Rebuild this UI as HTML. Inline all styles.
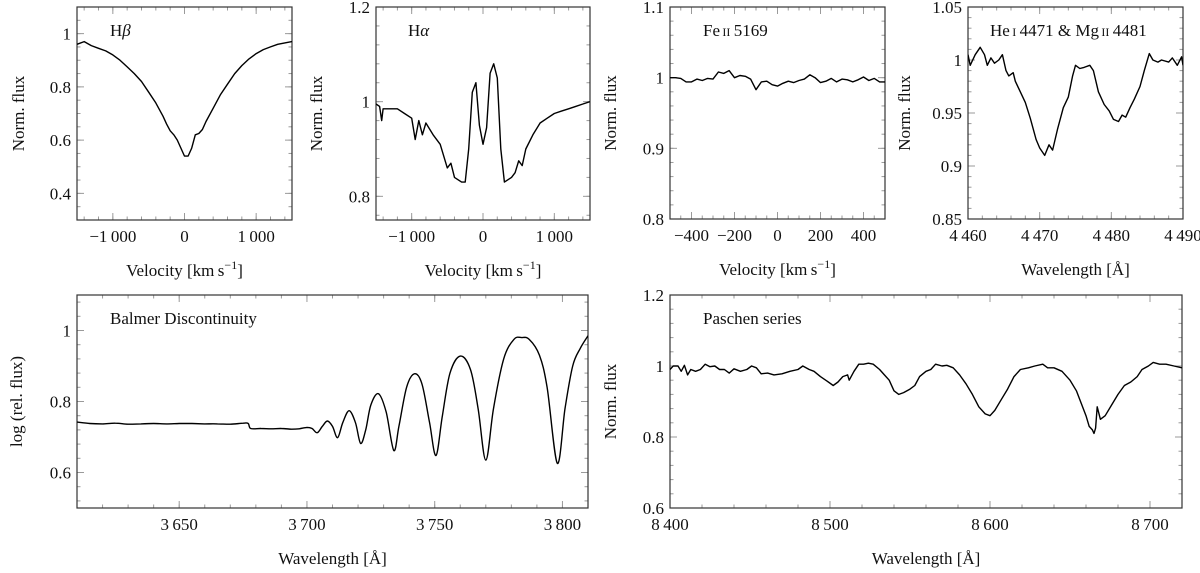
<!DOCTYPE html>
<html><head><meta charset="utf-8"><style>
html,body{margin:0;padding:0;background:#fff;}
svg, svg text{display:block;font-family:"Liberation Serif","DejaVu Serif",serif !important;}
</style></head><body>
<svg id="fig" width="1200" height="573" viewBox="0 0 1200 573" font-family="Liberation Serif, serif"></svg>
<script>
// ---- data ----
const hbV=[-1500,-1400,-1300,-1200,-1100,-1000,-900,-800,-700,-600,-500,-400,-300,-250,-200,-150,-100,-50,0,50,100,150,200,250,300,400,500,600,700,800,900,1000,1100,1200,1300,1400,1500];
const hbF=[0.96,0.97,0.955,0.945,0.935,0.92,0.9,0.875,0.85,0.82,0.78,0.74,0.69,0.66,0.635,0.62,0.6,0.57,0.54,0.54,0.57,0.62,0.625,0.64,0.67,0.72,0.77,0.81,0.85,0.88,0.905,0.925,0.94,0.95,0.96,0.965,0.97];
const haV=[-1500,-1450,-1420,-1400,-1300,-1200,-1100,-1000,-950,-900,-850,-800,-700,-600,-500,-450,-400,-300,-250,-200,-150,-100,-50,0,50,100,150,200,250,300,400,450,500,550,600,700,800,900,1000,1100,1200,1300,1400,1500];
const haF=[0.995,0.99,0.96,0.985,0.985,0.985,0.975,0.965,0.92,0.96,0.93,0.955,0.93,0.91,0.86,0.87,0.84,0.83,0.83,0.9,1.02,1.04,0.95,0.91,0.945,1.06,1.08,1.05,0.9,0.83,0.84,0.85,0.875,0.865,0.9,0.93,0.955,0.965,0.975,0.98,0.985,0.99,0.995,1.0];
const feV=[-500,-475,-450,-425,-400,-375,-350,-325,-300,-275,-250,-225,-200,-175,-150,-125,-100,-75,-50,-25,0,25,50,75,100,125,150,175,200,225,250,275,300,325,350,375,400,425,450,475,500];
const feF=[1.0,1.0,0.999,0.994,0.994,0.998,0.996,0.999,0.998,1.008,1.006,1.01,1.0,1.003,1.002,0.998,0.983,0.994,0.995,0.99,0.988,0.992,0.995,0.993,0.996,0.998,1.004,1.0,0.993,0.995,0.999,0.994,0.998,0.997,0.994,0.997,1.001,0.996,0.999,0.994,0.994];
const heW=[4460,4460.3,4461,4461.7,4462.3,4462.7,4463.2,4463.7,4464.3,4464.8,4465.3,4465.7,4466.3,4466.6,4467.3,4468,4468.7,4469.5,4470,4470.7,4471.3,4471.8,4472.5,4473.3,4474,4474.6,4475,4475.6,4476.2,4477,4477.5,4478.2,4479,4479.7,4480.3,4481,4481.5,4482,4482.6,4483.2,4484,4484.6,4485.3,4485.8,4486.5,4487,4488,4488.5,4489.2,4489.8,4490];
const heF=[1.005,0.995,1.005,1.012,1.005,0.995,1.002,0.997,1.0,1.005,0.99,0.985,0.988,0.98,0.97,0.96,0.945,0.925,0.917,0.91,0.92,0.915,0.935,0.955,0.965,0.985,0.995,0.992,0.993,0.995,0.99,0.97,0.958,0.952,0.944,0.942,0.948,0.946,0.955,0.963,0.975,0.99,1.006,1.0,0.998,1.0,0.998,1.002,0.995,1.003,0.995];
const bdW=[3610,3615,3620,3625,3630,3635,3640,3645,3650,3655,3660,3665,3670,3675,3677,3678,3682,3686,3690,3694,3697,3700,3702,3704,3706,3708,3710,3712,3714,3716.5,3719,3721,3723,3725,3728,3731,3734,3736,3739,3742,3745,3748,3750.5,3753,3756,3760,3764,3767,3770,3773,3777,3781,3784,3787,3791,3794,3798,3801,3804,3807,3810];
const bdF=[0.742,0.738,0.737,0.739,0.736,0.737,0.738,0.737,0.738,0.738,0.737,0.737,0.736,0.739,0.738,0.724,0.724,0.723,0.724,0.722,0.723,0.727,0.724,0.712,0.73,0.745,0.73,0.698,0.74,0.774,0.74,0.682,0.72,0.79,0.822,0.77,0.662,0.73,0.84,0.878,0.85,0.74,0.648,0.76,0.88,0.928,0.89,0.78,0.635,0.78,0.92,0.975,0.98,0.975,0.93,0.84,0.626,0.78,0.9,0.95,0.985];
const paW=[8400,8402,8405,8407,8409,8411,8413,8416,8419,8422,8425,8428,8431,8434,8437,8440,8444,8448,8451,8454,8457,8461,8465,8470,8475,8480,8483,8487,8490,8494,8498,8502,8505,8508,8511,8512,8515,8518,8521,8524,8527,8531,8534,8537,8540,8543,8546,8550,8553,8556,8560,8563,8566,8570,8573,8577,8581,8585,8589,8593,8597,8600,8603,8607,8611,8615,8619,8624,8628,8633,8636,8640,8645,8650,8654,8657,8660,8662,8664,8665,8666,8667,8669,8672,8676,8680,8684,8688,8692,8695,8699,8702,8706,8710,8715,8720];
const paF=[0.99,1.0,1.0,0.985,1.002,0.975,0.99,0.985,0.99,1.005,0.998,1.0,0.99,0.99,0.98,0.992,0.985,0.99,1.0,0.995,0.978,0.98,0.975,0.978,0.985,0.99,1.0,0.99,0.985,0.97,0.958,0.945,0.955,0.97,0.975,0.96,0.985,1.005,1.005,1.008,1.005,0.99,0.975,0.96,0.93,0.92,0.925,0.935,0.945,0.97,0.985,0.99,1.005,1.0,1.002,0.995,0.975,0.95,0.92,0.885,0.865,0.86,0.875,0.905,0.935,0.97,0.99,0.995,1.0,1.005,0.995,0.995,0.985,0.96,0.93,0.895,0.86,0.83,0.82,0.81,0.825,0.885,0.85,0.86,0.89,0.92,0.945,0.955,0.97,0.99,1.0,1.01,1.005,1.005,1.0,0.995];

// ---- drawing ----
const NS='http://www.w3.org/2000/svg';
const svg=document.getElementById('fig');
const FF='Liberation Serif, DejaVu Serif, serif';
function mk(tag,attrs,parent){const e=document.createElementNS(NS,tag);for(const k in attrs)e.setAttribute(k,attrs[k]);if(tag==='text')e.setAttribute('font-family',FF);(parent||svg).appendChild(e);return e;}
function fmt(v,dec){let s=v.toFixed(dec);let neg=s[0]==='-';if(neg)s=s.slice(1);let [i,f]=s.split('.');if(i.length>=4)i=i.slice(0,i.length-3)+'\u2009'+i.slice(-3);s=i+(f?'.'+f:'');if(parseFloat(s.replace('\u2009',''))===0)neg=false;return (neg?'\u2212':'')+s;}
function ticks(a,b,step){const r=[];const n0=Math.ceil(a/step-1e-6),n1=Math.floor(b/step+1e-6);for(let n=n0;n<=n1;n++)r.push(+(n*step).toFixed(6));return r;}

function panel(c){
  const g=mk('g',{});
  
  
  const X=v=>c.x0+(v-c.xmin)/(c.xmax-c.xmin)*(c.x1-c.x0);
  const Y=v=>c.y1-(v-c.ymin)/(c.ymax-c.ymin)*(c.y1-c.y0);
  const tg=mk('g',{stroke:'#9a9a9a','stroke-width':1},g);
  
  
  ticks(c.xmin,c.xmax,c.xminor).forEach(v=>{const x=X(v);mk('line',{x1:x,x2:x,y1:c.y1,y2:c.y1-3.5},tg);mk('line',{x1:x,x2:x,y1:c.y0,y2:c.y0+3.5},tg);});
  ticks(c.ymin,c.ymax,c.yminor).forEach(v=>{const y=Y(v);mk('line',{x1:c.x0,x2:c.x0+3.5,y1:y,y2:y},tg);mk('line',{x1:c.x1,x2:c.x1-3.5,y1:y,y2:y},tg);});
  ticks(c.xmin,c.xmax,c.xmajor).forEach(v=>{const x=X(v);mk('line',{x1:x,x2:x,y1:c.y1,y2:c.y1-7},tg);mk('line',{x1:x,x2:x,y1:c.y0,y2:c.y0+7},tg);
    const t=mk('text',{x:x,y:c.y1+22,'text-anchor':'middle','font-size':17,fill:'#111',stroke:'none'},g);t.textContent=fmt(v,c.xdec);
    
    });
  ticks(c.ymin,c.ymax,c.ymajor).forEach(v=>{const y=Y(v);mk('line',{x1:c.x0,x2:c.x0+7,y1:y,y2:y},tg);mk('line',{x1:c.x1,x2:c.x1-7,y1:y,y2:y},tg);
    const t=mk('text',{x:c.x0-6,y:y+6,'text-anchor':'end','font-size':17,fill:'#111',stroke:'none'},g);
    let s=v.toFixed(c.ydec).replace(/0+$/,'').replace(/\.$/,'');t.textContent=s;
    
    });
  const fr=mk('rect',{x:c.x0,y:c.y0,width:c.x1-c.x0,height:c.y1-c.y0,fill:'none',stroke:'#333','stroke-width':1.2},g);
  
  
  let pts=c.xs.map((v,i)=>[X(v),Y(c.ys[i])]);
  let d;
  if(c.smooth){d='M'+pts[0].join(',');for(let i=0;i<pts.length-1;i++){const p0=pts[Math.max(0,i-1)],p1=pts[i],p2=pts[i+1],p3=pts[Math.min(pts.length-1,i+2)];
    const c1=[p1[0]+(p2[0]-p0[0])/6,p1[1]+(p2[1]-p0[1])/6],c2=[p2[0]-(p3[0]-p1[0])/6,p2[1]-(p3[1]-p1[1])/6];
    d+=` C${c1[0].toFixed(1)},${c1[1].toFixed(1)} ${c2[0].toFixed(1)},${c2[1].toFixed(1)} ${p2[0].toFixed(1)},${p2[1].toFixed(1)}`;}}
  else d='M'+pts.map(p=>p[0].toFixed(1)+','+p[1].toFixed(1)).join(' L');
  const cp=mk('clipPath',{id:'cp-'+c.name},g);mk('rect',{x:c.x0,y:c.y0,width:c.x1-c.x0,height:c.y1-c.y0},cp);
  const path=mk('path',{d:d,fill:'none',stroke:'#000','stroke-width':1.4,'stroke-linejoin':'round','clip-path':'url(#cp-'+c.name+')'},g);
  
  
  const tl=mk('text',{x:c.tx,y:c.y0+29,'font-size':17,fill:'#111'},g);tl.innerHTML=c.title;
  
  
  const xl=mk('text',{x:(c.x0+c.x1)/2,y:c.y1+56,'text-anchor':'middle','font-size':17,fill:'#111'},g);xl.innerHTML=c.xlabel;
  
  
  const yl=mk('text',{x:0,y:0,'text-anchor':'middle','font-size':17,fill:'#111',transform:`translate(${c.ylx},${(c.y0+c.y1)/2}) rotate(-90)`},g);yl.textContent=c.ylabel;
  
  
}
const velLab='Velocity [km\u2009s<tspan dy="-7" font-size="12">\u22121</tspan><tspan dy="7">]</tspan>';
const wlLab='Wavelength [\u00C5]';
panel({name:'hbeta-panel',x0:77,x1:292,y0:7,y1:220,xmin:-1500,xmax:1500,ymin:0.3,ymax:1.1,xmajor:1000,xminor:200,ymajor:0.2,yminor:0.05,xdec:0,ydec:1,xs:hbV,ys:hbF,tx:110,title:'H<tspan font-style="italic">\u03B2</tspan>',xlabel:velLab,ylabel:'Norm. flux',ylx:24});
panel({name:'halpha-panel',x0:376,x1:590,y0:7,y1:220,xmin:-1500,xmax:1500,ymin:0.75,ymax:1.2,xmajor:1000,xminor:200,ymajor:0.2,yminor:0.04,xdec:0,ydec:1,xs:haV,ys:haF,tx:408,title:'H<tspan font-style="italic">\u03B1</tspan>',xlabel:velLab,ylabel:'Norm. flux',ylx:322});
panel({name:'feii-panel',x0:670,x1:885,y0:7,y1:219,xmin:-500,xmax:500,ymin:0.8,ymax:1.1,xmajor:200,xminor:50,ymajor:0.1,yminor:0.02,xdec:0,ydec:1,xs:feV,ys:feF,tx:703,title:'Fe<tspan font-size="12">\u2009II</tspan>\u20095169',xlabel:velLab,ylabel:'Norm. flux',ylx:616});
panel({name:'hei-mgii-panel',x0:968,x1:1183,y0:7,y1:219,xmin:4460,xmax:4490,ymin:0.85,ymax:1.05,xmajor:10,xminor:2,ymajor:0.05,yminor:0.01,xdec:0,ydec:2,xs:heW,ys:heF,tx:990,title:'He<tspan font-size="12">\u2009I</tspan>\u20094471 &amp; Mg<tspan font-size="12">\u2009II</tspan>\u20094481',xlabel:wlLab,ylabel:'Norm. flux',ylx:910});
panel({name:'balmer-panel',x0:77,x1:588,y0:295,y1:508,xmin:3610,xmax:3810,ymin:0.5,ymax:1.1,xmajor:50,xminor:10,ymajor:0.2,yminor:0.04,xdec:0,ydec:1,xs:bdW,ys:bdF,smooth:true,tx:110,title:'Balmer Discontinuity',xlabel:wlLab,ylabel:'log (rel. flux)',ylx:22});
panel({name:'paschen-panel',x0:670,x1:1182,y0:295,y1:508,xmin:8400,xmax:8720,ymin:0.6,ymax:1.2,xmajor:100,xminor:20,ymajor:0.2,yminor:0.04,xdec:0,ydec:1,xs:paW,ys:paF,tx:703,title:'Paschen series',xlabel:wlLab,ylabel:'Norm. flux',ylx:616});
</script>
</body></html>
